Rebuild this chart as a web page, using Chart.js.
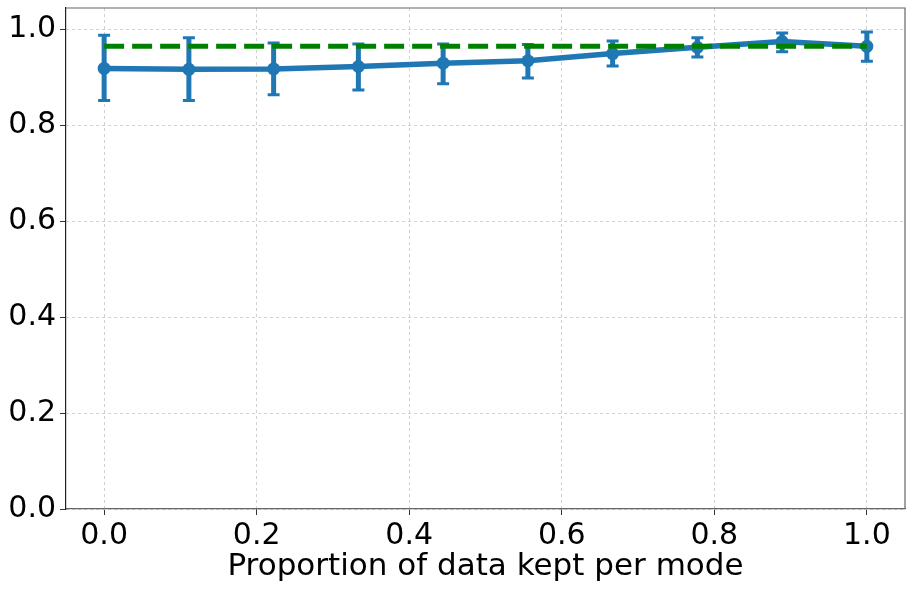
<!DOCTYPE html>
<html>
<head>
<meta charset="utf-8">
<script src="https://cdn.jsdelivr.net/npm/chart.js@4.4.3/dist/chart.umd.min.js"></script>
<style>
  html, body { margin: 0; padding: 0; background: #fff; }
  #wrap { width: 913px; height: 591px; }
</style>
</head>
<body>
<div id="wrap"><canvas id="c" width="913" height="591"></canvas></div>
<script>
// data
const xs = [0, 1/9, 2/9, 3/9, 4/9, 5/9, 6/9, 7/9, 8/9, 1];
const means = [0.919, 0.917, 0.918, 0.923, 0.930, 0.935, 0.950, 0.963, 0.975, 0.965];
const lower = [0.852, 0.852, 0.864, 0.874, 0.887, 0.899, 0.924, 0.943, 0.954, 0.934];
const upper = [0.988, 0.983, 0.972, 0.970, 0.970, 0.969, 0.976, 0.983, 0.993, 0.995];
const baselineX = [0, 1];
const baselineY = [0.965, 0.965];
const xTicks = [0, 0.2, 0.4, 0.6, 0.8, 1.0];
const yTicks = [0, 0.2, 0.4, 0.6, 0.8, 1.0];
const xLabel = 'Proportion of data kept per mode';

const BLUE = '#1f77b4', GREEN = '#008000';
const FONT = 'DejaVu Sans';

// error bars, drawn just before the blue series
const errorBars = {
  id: 'errorBars',
  beforeDatasetDraw(chart, args) {
    if (args.index !== 1) return;
    const { ctx, scales: { x, y } } = chart;
    ctx.save();
    ctx.strokeStyle = BLUE;
    xs.forEach((v, i) => {
      const px = x.getPixelForValue(v);
      const lo = y.getPixelForValue(lower[i]), hi = y.getPixelForValue(upper[i]);
      ctx.lineWidth = 5;
      ctx.beginPath(); ctx.moveTo(px, lo); ctx.lineTo(px, hi); ctx.stroke();
      ctx.lineWidth = 3;
      ctx.beginPath();
      ctx.moveTo(px - 6, lo); ctx.lineTo(px + 6, lo);
      ctx.moveTo(px - 6, hi); ctx.lineTo(px + 6, hi);
      ctx.stroke();
    });
    ctx.restore();
  }
};

// top and right spines
const frame = {
  id: 'frame',
  afterDraw(chart) {
    const { ctx, chartArea: a } = chart;
    ctx.save();
    ctx.strokeStyle = '#666';
    ctx.lineWidth = 1.2;
    ctx.beginPath();
    ctx.moveTo(a.left, a.top); ctx.lineTo(a.right, a.top); ctx.lineTo(a.right, a.bottom);
    ctx.stroke();
    ctx.restore();
  }
};

const gridOpts = {
  color: '#d0d0d0',
  lineWidth: 1,
  tickColor: '#333',
  tickLength: 6,
  tickWidth: 1
};

new Chart(document.getElementById('c'), {
  type: 'line',
  data: {
    datasets: [
      {
        data: baselineX.map((v, i) => ({ x: v, y: baselineY[i] })),
        borderColor: GREEN,
        borderWidth: 5,
        borderDash: [20, 8],
        pointRadius: 0,
        fill: false
      },
      {
        data: xs.map((v, i) => ({ x: v, y: means[i] })),
        borderColor: BLUE,
        backgroundColor: BLUE,
        borderWidth: 5.5,
        pointRadius: 6.5,
        pointBorderWidth: 0,
        pointBackgroundColor: BLUE,
        tension: 0,
        fill: false
      }
    ]
  },
  options: {
    responsive: false,
    animation: false,
    layout: { padding: { top: 8, right: 8, left: 0, bottom: 0 } },
    plugins: { legend: { display: false }, tooltip: { enabled: false } },
    scales: {
      x: {
        type: 'linear',
        min: -0.05, max: 1.05,
        afterBuildTicks: s => { s.ticks = xTicks.map(v => ({ value: v })); },
        afterFit: s => { s.height = 82; s.paddingLeft = 0; s.paddingRight = 0; },
        grid: gridOpts,
        border: { color: '#666', width: 1.2, dash: [3, 3] },
        ticks: {
          color: '#000', padding: 3,
          font: { family: FONT, size: 30 },
          maxRotation: 0,
          callback: v => v.toFixed(1)
        },
        title: {
          display: true, text: xLabel, color: '#000',
          font: { family: FONT, size: 31 },
          padding: { top: 0, bottom: 5 }
        }
      },
      y: {
        type: 'linear',
        min: 0, max: 1.045,
        afterBuildTicks: s => { s.ticks = yTicks.map(v => ({ value: v })); },
        afterFit: s => { s.width = 66; s.paddingTop = 0; s.paddingBottom = 0; },
        grid: gridOpts,
        border: { color: '#222', width: 1.2, dash: [3, 3] },
        ticks: {
          color: '#000', padding: 4,
          font: { family: FONT, size: 30 },
          callback: v => v.toFixed(1)
        }
      }
    }
  },
  plugins: [errorBars, frame]
});
</script>
</body>
</html>
